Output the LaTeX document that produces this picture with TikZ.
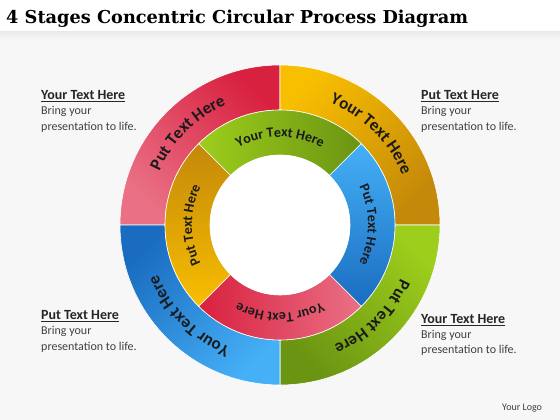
\documentclass[tikz,border=0pt]{standalone}
\usepackage{fontspec}
\usepackage{graphicx}
\setmainfont{Carlito}
\newfontfamily\titlefont{DejaVu Serif}
\usetikzlibrary{decorations.text}
\definecolor{txt}{HTML}{1A1A1A}
\definecolor{head}{HTML}{262626}
\definecolor{body}{HTML}{404040}
\definecolor{redD}{HTML}{D8203F}
\definecolor{redL}{HTML}{EA7185}
\definecolor{orB}{HTML}{F8BE00}
\definecolor{orD}{HTML}{C4880A}
\definecolor{grB}{HTML}{9DCE1C}
\definecolor{grD}{HTML}{6A9412}
\definecolor{blD}{HTML}{1A6CC0}
\definecolor{blL}{HTML}{45B0F6}
\newcommand\annseg[5]{\shade[#5] ([shift={(#1:#4)}]C) arc[start angle=#1,end angle=#2,radius=#4] -- ([shift={(#2:#3)}]C) arc[start angle=#2,end angle=#1,radius=#3] -- cycle;
\draw[white,line width=0.6pt] ([shift={(#1:#4)}]C) arc[start angle=#1,end angle=#2,radius=#4] -- ([shift={(#2:#3)}]C) arc[start angle=#2,end angle=#1,radius=#3] -- cycle;}
\newcommand\arctext[5]{\path[decorate,decoration={text along path,text align=center,text color=txt,text={|\fontsize{#4}{#4}\selectfont\bfseries|#3}}] ([shift={(#1+#5:#2)}]C) arc[start angle=#1+#5,end angle=#1-#5,radius=#2];}
\begin{document}
\begin{tikzpicture}[x=1pt,y=1pt,
  headtxt/.style={anchor=base west,inner sep=0pt,text=head,font=\fontsize{14}{16}\selectfont\bfseries},
  bodytxt/.style={anchor=base west,inner sep=0pt,text=body,font=\fontsize{12}{14}\selectfont}]
\useasboundingbox (0,0) rectangle (560,420);
\fill[white] (0,0) rectangle (560,420);
\fill[gray!6] (0,0) rectangle (560,388);
\shade[top color=gray!16,bottom color=gray!6] (0,380) rectangle (560,388);
\coordinate (C) at (280,195);
% title
\node[anchor=base west,inner sep=0pt] (title) at (6,396) {\resizebox{462pt}{!}{\titlefont\bfseries 4 Stages Concentric Circular Process Diagram}};
% outer ring
\annseg{90}{180}{115}{160}{top color=redD,bottom color=redL,shading angle=-45}
\annseg{0}{90}{115}{160}{top color=orB,bottom color=orD,shading angle=45}
\annseg{-90}{0}{115}{160}{top color=grB,bottom color=grD,shading angle=-45}
\annseg{180}{270}{115}{160}{top color=blD,bottom color=blL,shading angle=45}
% inner ring
\annseg{45}{135}{70}{115}{top color=grB,bottom color=grD,shading angle=90}
\annseg{-45}{45}{70}{115}{top color=blL,bottom color=blD,shading angle=0}
\annseg{225}{315}{70}{115}{top color=redD,bottom color=redL,shading angle=90}
\annseg{135}{225}{70}{115}{top color=orD,bottom color=orB,shading angle=0}
\fill[white] (C) circle[radius=70];
% ring texts
\arctext{135}{132}{Put Text Here}{17}{44}
\arctext{45}{132}{Your Text Here}{17}{44}
\arctext{-45}{132}{Put Text Here}{17}{44}
\arctext{225}{132}{Your Text Here}{17}{44}
\arctext{90}{88}{Your Text Here}{14}{44}
\arctext{0}{88}{Put Text Here}{14}{44}
\arctext{270}{88}{Your Text Here}{14}{44}
\arctext{180}{88}{Put Text Here}{14}{44}
% side texts
\node[headtxt] (h1) at (41,320.5) {\underline{Your Text Here}};
\node[bodytxt] (b1a) at (41,305) {Bring your};
\node[bodytxt] (b1b) at (41,289.5) {presentation to life.};
\node[headtxt] (h2) at (421,320.5) {\underline{Put Text Here}};
\node[bodytxt] (b2a) at (421,305) {Bring your};
\node[bodytxt] (b2b) at (421,289.5) {presentation to life.};
\node[headtxt] (h3) at (41,100.5) {\underline{Put Text Here}};
\node[bodytxt] (b3a) at (41,85) {Bring your};
\node[bodytxt] (b3b) at (41,69.5) {presentation to life.};
\node[headtxt] (h4) at (421,96.7) {\underline{Your Text Here}};
\node[bodytxt] (b4a) at (421,81) {Bring your};
\node[bodytxt] (b4b) at (421,66) {presentation to life.};
\node[anchor=base west,inner sep=0pt,text=body,font=\fontsize{10}{12}\selectfont] (logo) at (502,9.3) {Your Logo};
\end{tikzpicture}
\end{document}
